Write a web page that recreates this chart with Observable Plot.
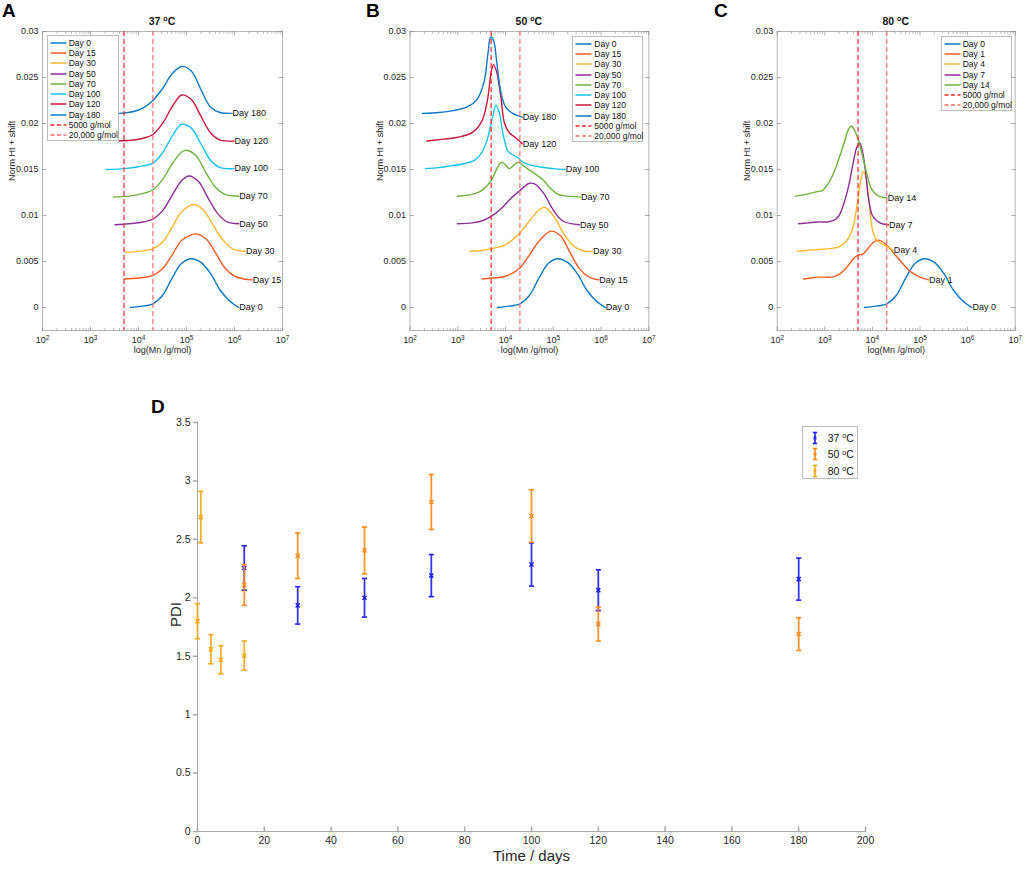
<!DOCTYPE html>
<html><head><meta charset="utf-8">
<script src="https://cdn.jsdelivr.net/npm/d3@7"></script>
<script src="https://cdn.jsdelivr.net/npm/@observablehq/plot@0.6"></script>
<style>
html,body{margin:0;padding:0;background:#fff;}
#root{position:relative;width:1024px;height:869px;overflow:hidden;font-family:"Liberation Sans",Arial,Helvetica,sans-serif;color:#262626;}
#root svg{overflow:visible;}
.sup{font-size:0.68em;position:relative;top:-0.5em;}
.lg{position:absolute;border:0.8px solid #bdbdbd;background:#fff;box-sizing:border-box;}
.lgrow{display:flex;align-items:center;white-space:nowrap;}
</style></head><body><div id="root"></div>
<script>
// ---------------- DATA: panels A-C (x = log10 Mn, y = Norm Ht + shift) ----------------
const mnTicks = [1e2, 1e3, 1e4, 1e5, 1e6, 1e7];
const htTicks = [0, 0.005, 0.01, 0.015, 0.02, 0.025, 0.03];
const refLines = [5000, 20000];
const refLabels = ["5000 g/mol", "20,000 g/mol"];
const refColors = ["#ff2626", "#ff6a6a"];
const temps = ["37", "50", "80"];

const labels37 = ["Day 0", "Day 15", "Day 30", "Day 50", "Day 70", "Day 100", "Day 120", "Day 180"];
const labels50 = ["Day 0", "Day 15", "Day 30", "Day 50", "Day 70", "Day 100", "Day 120", "Day 180"];
const labels80 = ["Day 0", "Day 1", "Day 4", "Day 7", "Day 14"];
const colors8 = ["#0a78c2", "#f25a22", "#fbb62c", "#8e2f96", "#6cb23c", "#15c3f0", "#c9173d", "#0a78c2"];
const colors5 = ["#0a78c2", "#f25a22", "#fbb62c", "#8e2f96", "#6cb23c"];

const day0 = [[3.83,0.0000],[4.0,0.0001],[4.3,0.0004],[4.5,0.0013],[4.7,0.0032],[4.9,0.0048],[5.1,0.0053],[5.3,0.0049],[5.5,0.0037],[5.7,0.0019],[5.9,0.0007],[6.09,0.0000]];

const a15  = [[3.70,0.0031],[4.0,0.0032],[4.3,0.0035],[4.5,0.0042],[4.7,0.0057],[4.9,0.0073],[5.1,0.0079],[5.2,0.0080],[5.4,0.0075],[5.6,0.0060],[5.8,0.0043],[6.0,0.0034],[6.2,0.0031],[6.37,0.0030]];
const a30  = [[3.73,0.0060],[4.0,0.0061],[4.3,0.0064],[4.5,0.0071],[4.7,0.0087],[4.9,0.0104],[5.15,0.0112],[5.35,0.0106],[5.55,0.0090],[5.75,0.0074],[5.95,0.0064],[6.23,0.0061]];
const a50  = [[3.51,0.0090],[3.8,0.0091],[4.1,0.0093],[4.3,0.0096],[4.5,0.0105],[4.7,0.0122],[4.9,0.0138],[5.05,0.0143],[5.25,0.0137],[5.45,0.0119],[5.65,0.0102],[5.85,0.0093],[6.09,0.0091]];
const a70  = [[3.47,0.0120],[3.8,0.0121],[4.1,0.0124],[4.3,0.0128],[4.5,0.0139],[4.7,0.0156],[4.9,0.0169],[5.0,0.0171],[5.2,0.0165],[5.4,0.0147],[5.6,0.0131],[5.8,0.0123],[6.09,0.0121]];
const a100 = [[3.33,0.0150],[3.7,0.0151],[4.0,0.0153],[4.3,0.0157],[4.5,0.0168],[4.7,0.0186],[4.9,0.0199],[5.1,0.0195],[5.3,0.0178],[5.5,0.0160],[5.7,0.0152],[5.99,0.0151]];
const a120 = [[3.59,0.0181],[3.9,0.0182],[4.1,0.0184],[4.3,0.0188],[4.5,0.0200],[4.7,0.0218],[4.9,0.0231],[5.1,0.0226],[5.3,0.0208],[5.5,0.0190],[5.7,0.0182],[5.99,0.0181]];
const a180 = [[3.60,0.0211],[3.9,0.0213],[4.1,0.0217],[4.3,0.0225],[4.5,0.0238],[4.7,0.0254],[4.9,0.0262],[5.1,0.0257],[5.3,0.0237],[5.5,0.0218],[5.7,0.0212],[5.95,0.0211]];

const b15  = [[3.51,0.0031],[3.7,0.0032],[4.0,0.0034],[4.3,0.0043],[4.5,0.0057],[4.7,0.0072],[4.95,0.0083],[5.15,0.0078],[5.35,0.0060],[5.55,0.0042],[5.75,0.0033],[5.95,0.0030]];
const b30  = [[3.25,0.0061],[3.5,0.0062],[3.7,0.0064],[4.0,0.0068],[4.3,0.0081],[4.5,0.0094],[4.7,0.0106],[4.82,0.0109],[5.0,0.0100],[5.2,0.0082],[5.4,0.0068],[5.6,0.0062],[5.82,0.0061]];
const b50  = [[2.99,0.0091],[3.3,0.0092],[3.5,0.0094],[3.7,0.0099],[3.9,0.0107],[4.1,0.0118],[4.3,0.0127],[4.5,0.0135],[4.62,0.0134],[4.8,0.0124],[5.0,0.0106],[5.2,0.0094],[5.55,0.0090]];
const b70  = [[2.99,0.0121],[3.3,0.0123],[3.5,0.0127],[3.7,0.0138],[3.85,0.0154],[3.92,0.0158],[4.0,0.0155],[4.08,0.0151],[4.18,0.0155],[4.27,0.0158],[4.4,0.0153],[4.6,0.0146],[4.8,0.0138],[4.95,0.0129],[5.1,0.0123],[5.3,0.0121],[5.57,0.0120]];
const b100 = [[2.32,0.0151],[2.6,0.0152],[2.85,0.0154],[3.1,0.0156],[3.35,0.0160],[3.5,0.0168],[3.62,0.0183],[3.72,0.0205],[3.8,0.0220],[3.87,0.0212],[3.95,0.0188],[4.05,0.0170],[4.15,0.0166],[4.25,0.0163],[4.4,0.0157],[4.7,0.0153],[5.0,0.0151],[5.25,0.0150]];
const b120 = [[2.35,0.0181],[2.7,0.0183],[3.0,0.0185],[3.3,0.0190],[3.5,0.0202],[3.62,0.0225],[3.7,0.0256],[3.75,0.0264],[3.82,0.0255],[3.9,0.0230],[3.98,0.0200],[4.08,0.0190],[4.2,0.0185],[4.35,0.0178]];
const b180 = [[2.26,0.0211],[2.6,0.0212],[2.9,0.0214],[3.2,0.0218],[3.4,0.0226],[3.55,0.0245],[3.63,0.0275],[3.69,0.0294],[3.75,0.0290],[3.82,0.0265],[3.9,0.0235],[4.0,0.0218],[4.15,0.0211],[4.35,0.0207]];

const c1  = [[2.55,0.0031],[2.7,0.0032],[2.85,0.0033],[3.0,0.0033],[3.15,0.0033],[3.3,0.0036],[3.45,0.0043],[3.6,0.0053],[3.7,0.0057],[3.8,0.0058],[3.92,0.0065],[4.05,0.0072],[4.15,0.0073],[4.3,0.0068],[4.45,0.0059],[4.6,0.0050],[4.8,0.0039],[5.0,0.0033],[5.18,0.0030]];
const c4  = [[2.42,0.0061],[2.6,0.0062],[2.85,0.0063],[3.1,0.0064],[3.3,0.0066],[3.45,0.0072],[3.58,0.0085],[3.68,0.0112],[3.75,0.0137],[3.81,0.0148],[3.87,0.0140],[3.93,0.0115],[4.0,0.0085],[4.08,0.0074],[4.2,0.0069],[4.32,0.0066],[4.44,0.0062]];
const c7  = [[2.45,0.0091],[2.65,0.0092],[2.85,0.0093],[3.05,0.0093],[3.2,0.0095],[3.3,0.0100],[3.4,0.0113],[3.5,0.0132],[3.6,0.0158],[3.67,0.0174],[3.73,0.0179],[3.79,0.0170],[3.85,0.0150],[3.92,0.0118],[4.0,0.0100],[4.1,0.0094],[4.2,0.0091],[4.34,0.0090]];
const c14 = [[2.38,0.0121],[2.6,0.0123],[2.84,0.0126],[2.95,0.0127],[3.1,0.0137],[3.25,0.0155],[3.4,0.0178],[3.5,0.0194],[3.56,0.0197],[3.63,0.0192],[3.7,0.0183],[3.8,0.0163],[3.9,0.0142],[3.98,0.0129],[4.1,0.0122],[4.2,0.0120],[4.31,0.0119]];

// ---------------- DATA: panel D (PDI vs time) ----------------
const dTicksX = [0, 20, 40, 60, 80, 100, 120, 140, 160, 180, 200];
const dTicksY = [0, 0.5, 1, 1.5, 2, 2.5, 3, 3.5];
const days37 = [14, 30, 50, 70, 100, 120, 180];
const pdi37  = [2.255, 1.935, 2.00, 2.19, 2.285, 2.065, 2.16];
const err37  = [0.19, 0.16, 0.165, 0.18, 0.185, 0.175, 0.18];
const days50 = [14, 30, 50, 70, 100, 120, 180];
const pdi50  = [2.11, 2.36, 2.405, 2.82, 2.70, 1.775, 1.69];
const err50  = [0.175, 0.195, 0.20, 0.235, 0.225, 0.145, 0.14];
const days80 = [0, 1, 4, 7, 14];
const pdi80  = [1.80, 2.69, 1.56, 1.47, 1.505];
const err80  = [0.15, 0.22, 0.125, 0.12, 0.125];
const pdiColors = ["#1f1fee", "#fb8a17", "#f3a716"];

// ---------------- helpers ----------------
const root = document.getElementById("root");
const FONT = '"Liberation Sans", Arial, Helvetica, sans-serif';
const tickShape = {draw(ctx, l) { ctx.moveTo(0, 0); ctx.lineTo(0, -l); }};
const capShape = {draw(ctx, size) { const w = Math.sqrt(size / Math.PI); ctx.moveTo(-w, 0); ctx.lineTo(w, 0); }};
function place(el, left, top) { el.style.position = "absolute"; el.style.left = left + "px"; el.style.top = top + "px"; root.appendChild(el); return el; }
function html(tag, css, inner) { const e = document.createElement(tag); e.style.cssText = css; if (inner != null) e.innerHTML = inner; return e; }
function tempHTML(t) { return `${t} <span class="sup">o</span>C`; }

function topPanel(cfg) {
  const rows = [];
  cfg.curves.forEach((c, i) => c.forEach(([lx, h]) => rows.push({mn: Math.pow(10, lx), h, day: cfg.labels[i]})));
  const ends = cfg.curves.map((c, i) => ({mn: Math.pow(10, c[c.length - 1][0]), h: c[c.length - 1][1], day: cfg.labels[i]}));
  const minor = [];
  for (let e = 2; e < 7; e++) for (let m = 2; m < 10; m++) minor.push(m * Math.pow(10, e));
  const tc = "#8a8a8a";
  const p = Plot.plot({
    width: cfg.width, height: 365,
    marginLeft: cfg.ml, marginRight: cfg.mr, marginTop: 31, marginBottom: 35,
    style: {fontFamily: FONT, fontSize: "9px", color: "#262626", background: "transparent", overflow: "visible"},
    x: {type: "log", domain: [1e2, 1e7]},
    y: {domain: [-0.0025, 0.03]},
    color: {domain: cfg.labels, range: cfg.colors},
    marks: [
      Plot.frame({stroke: "#b4b4b4"}),
      Plot.vector(mnTicks, {x: d => d, frameAnchor: "bottom", length: 3.5, rotate: 0, anchor: "start", shape: tickShape, stroke: tc, strokeWidth: 0.7}),
      Plot.vector(minor, {x: d => d, frameAnchor: "bottom", length: 2, rotate: 0, anchor: "start", shape: tickShape, stroke: tc, strokeWidth: 0.6}),
      Plot.vector(mnTicks, {x: d => d, frameAnchor: "top", length: 3.5, rotate: 180, anchor: "start", shape: tickShape, stroke: tc, strokeWidth: 0.7}),
      Plot.vector(minor, {x: d => d, frameAnchor: "top", length: 2, rotate: 180, anchor: "start", shape: tickShape, stroke: tc, strokeWidth: 0.6}),
      Plot.vector(htTicks, {y: d => d, frameAnchor: "left", length: 3.5, rotate: 90, anchor: "start", shape: tickShape, stroke: tc, strokeWidth: 0.7}),
      Plot.vector(htTicks, {y: d => d, frameAnchor: "right", length: 3.5, rotate: -90, anchor: "start", shape: tickShape, stroke: tc, strokeWidth: 0.7}),
      Plot.line(rows, {x: "mn", y: "h", z: "day", stroke: "day", strokeWidth: 1.4, curve: "catmull-rom"}),
      Plot.ruleX([refLines[0]], {stroke: refColors[0], strokeDasharray: "5,3", strokeWidth: 1.2}),
      Plot.ruleX([refLines[1]], {stroke: refColors[1], strokeDasharray: "5,3", strokeWidth: 1.2}),
      Plot.text(ends, {x: "mn", y: "h", text: "day", textAnchor: "start", dx: 0.5, fontSize: 9, fill: "#111"}),
      Plot.axisX(mnTicks, {tickSize: 0, tickPadding: 6, tickFormat: d => String(Math.round(Math.log10(d))), label: null}),
      Plot.axisY(htTicks, {tickSize: 0, tickPadding: 4, tickFormat: d => String(d), label: null}),
      Plot.text(["Norm Ht + shift"], {text: d => d, frameAnchor: "left", dx: -30, rotate: -90, fontSize: 9, fill: "#262626"}),
      Plot.text(["log(Mn /g/mol)"], {text: d => d, frameAnchor: "bottom", dy: 22, fontSize: 9, fill: "#262626"})
    ]
  });
  p.querySelectorAll('[aria-label="x-axis tick label"] text').forEach(t => {
    const e = t.textContent; t.textContent = "10";
    const ts = document.createElementNS("http://www.w3.org/2000/svg", "tspan");
    ts.setAttribute("dy", "-0.42em"); ts.setAttribute("font-size", "0.72em"); ts.textContent = e;
    t.appendChild(ts);
  });
  place(p, cfg.left, 0);
  // title
  const fc = cfg.left + cfg.ml + (cfg.width - cfg.ml - cfg.mr) / 2;
  place(html("div", `width:100px;text-align:center;font-weight:bold;font-size:10.5px;color:#111;`, tempHTML(cfg.temp)), fc - 50, 15);
  // panel letter
  place(html("div", `font-weight:bold;font-size:19px;color:#000;line-height:19px;`, cfg.letter), cfg.letterX, 1);
  // legend
  const items = cfg.labels.map((l, i) => ({label: l, color: cfg.colors[i], dash: null}))
    .concat(refLabels.map((l, i) => ({label: l, color: refColors[i], dash: "4,2.5"})));
  const lg = html("div", `width:${cfg.lgW}px;height:${items.length * 10.3 + 3}px;padding-top:1.5px;font-size:8.5px;color:#111;`);
  lg.className = "lg";
  items.forEach(it => {
    const r = html("div", "height:10.3px;");
    r.className = "lgrow";
    r.innerHTML = `<svg width="21" height="10" style="flex:none"><line x1="2.5" x2="18.5" y1="5" y2="5" stroke="${it.color}" stroke-width="1.5" ${it.dash ? `stroke-dasharray="${it.dash}"` : ""}/></svg><span>${it.label}</span>`;
    lg.appendChild(r);
  });
  place(lg, cfg.lgX, cfg.lgY);
}

topPanel({letter: "A", letterX: 2, temp: temps[0], left: 0, width: 340, ml: 42, mr: 58,
  curves: [day0, a15, a30, a50, a70, a100, a120, a180], labels: labels37, colors: colors8,
  lgX: 46.7, lgY: 35, lgW: 72});
topPanel({letter: "B", letterX: 366, temp: temps[1], left: 340, width: 340, ml: 69.5, mr: 31.7,
  curves: [day0, b15, b30, b50, b70, b100, b120, b180], labels: labels50, colors: colors8,
  lgX: 572.3, lgY: 36, lgW: 71});
topPanel({letter: "C", letterX: 714, temp: temps[2], left: 680, width: 344, ml: 96.7, mr: 9.3,
  curves: [day0, c1, c4, c7, c14], labels: labels80, colors: colors5,
  lgX: 940.7, lgY: 36, lgW: 71});

// ---------------- Panel D ----------------
const dSeries = [
  {temp: temps[0], days: days37, pdi: pdi37, err: err37, color: pdiColors[0]},
  {temp: temps[1], days: days50, pdi: pdi50, err: err50, color: pdiColors[1]},
  {temp: temps[2], days: days80, pdi: pdi80, err: err80, color: pdiColors[2]}
];
const axisGray = "#a8a8a8";
const dMarks = [
  Plot.ruleY([0], {stroke: axisGray}),
  Plot.ruleX([0], {stroke: axisGray}),
  Plot.vector(dTicksX, {x: d => d, frameAnchor: "bottom", length: 4.5, rotate: 0, anchor: "start", shape: tickShape, stroke: axisGray}),
  Plot.vector(dTicksY, {y: d => d, frameAnchor: "left", length: 4, rotate: -90, anchor: "start", shape: tickShape, stroke: axisGray}),
  Plot.axisX(dTicksX, {tickSize: 0, tickPadding: 5, label: null}),
  Plot.axisY(dTicksY, {tickSize: 0, tickPadding: 7, tickFormat: d => String(d), label: null}),
  Plot.text(["PDI"], {text: d => d, frameAnchor: "left", dx: -21, rotate: -90, fontSize: 15, fill: "#262626"}),
  Plot.text(["Time / days"], {text: d => d, frameAnchor: "bottom", dy: 29, fontSize: 15, fill: "#262626"})
];
dSeries.forEach(s => {
  const rows = s.days.map((d, i) => ({day: d, pdi: s.pdi[i], lo: s.pdi[i] - s.err[i], hi: s.pdi[i] + s.err[i]}));
  dMarks.push(
    Plot.ruleX(rows, {x: "day", y1: "lo", y2: "hi", stroke: s.color, strokeWidth: 1.8, strokeOpacity: 0.9}),
    Plot.dot(rows, {x: "day", y: "lo", symbol: capShape, r: 2.6, stroke: s.color, strokeWidth: 1.6, fill: "none"}),
    Plot.dot(rows, {x: "day", y: "hi", symbol: capShape, r: 2.6, stroke: s.color, strokeWidth: 1.6, fill: "none"}),
    Plot.dot(rows, {x: "day", y: "pdi", symbol: "times", r: 2, stroke: s.color, strokeWidth: 1.5})
  );
});
const pd = Plot.plot({
  width: 1024, height: 474, marginLeft: 197, marginRight: 159, marginTop: 27, marginBottom: 38,
  style: {fontFamily: FONT, fontSize: "10.5px", color: "#262626", background: "transparent", overflow: "visible"},
  x: {domain: [0, 200]},
  y: {domain: [0, 3.5]},
  marks: dMarks
});
place(pd, 0, 395);
place(html("div", `font-weight:bold;font-size:19px;color:#000;line-height:19px;`, "D"), 151, 397);

// legend D
const lgD = html("div", `width:56px;height:53px;padding-top:2.5px;font-size:10.5px;color:#111;`);
lgD.className = "lg";
dSeries.forEach(s => {
  const r = html("div", "height:16.5px;");
  r.className = "lgrow";
  r.innerHTML = `<svg width="25" height="14" style="flex:none"><g stroke="${s.color}" stroke-width="1.6" fill="none">
    <line x1="12" x2="12" y1="1.5" y2="12.5"/><line x1="9.8" x2="14.2" y1="1.5" y2="1.5"/><line x1="9.8" x2="14.2" y1="12.5" y2="12.5"/>
    <path d="M10.6,5.6L13.4,8.4M13.4,5.6L10.6,8.4" stroke-width="1.3"/></g></svg><span>${tempHTML(s.temp)}</span>`;
  lgD.appendChild(r);
});
place(lgD, 801.7, 426);
</script></body></html>
